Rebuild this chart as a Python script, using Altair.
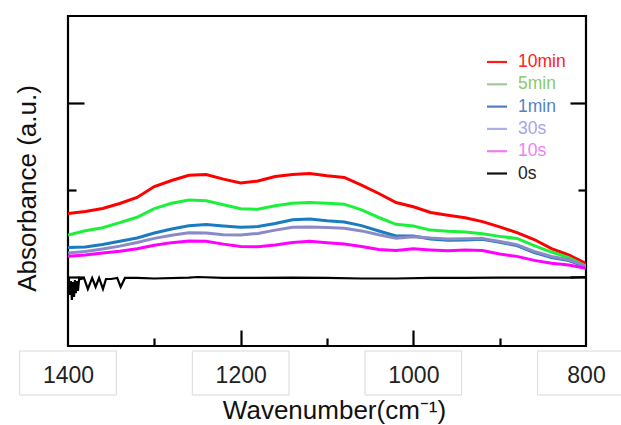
import altair as alt
import pandas as pd

# Wavenumber grid (cm^-1) shared by the coloured spectra
wavenumbers = [1400, 1380, 1360, 1340, 1320, 1300, 1280, 1260, 1240, 1220,
               1200, 1180, 1160, 1140, 1120, 1100, 1080, 1060, 1040, 1020,
               1000, 980, 960, 940, 920, 900, 880, 860, 840, 820, 800]

abs_10min = [0.730, 0.753, 0.787, 0.845, 0.914, 1.040, 1.109, 1.169, 1.178, 1.125,
             1.080, 1.103, 1.156, 1.178, 1.190, 1.164, 1.144, 1.057, 0.960, 0.856,
             0.807, 0.741, 0.710, 0.682, 0.637, 0.577, 0.510, 0.431, 0.326, 0.253, 0.157]
abs_5min = [0.483, 0.532, 0.567, 0.625, 0.687, 0.787, 0.848, 0.884, 0.877, 0.830,
            0.785, 0.778, 0.820, 0.849, 0.855, 0.847, 0.837, 0.771, 0.684, 0.606,
            0.586, 0.539, 0.525, 0.517, 0.498, 0.467, 0.443, 0.361, 0.287, 0.223, 0.126]
abs_1min = [0.339, 0.344, 0.374, 0.411, 0.448, 0.506, 0.552, 0.589, 0.603, 0.586,
            0.571, 0.580, 0.616, 0.657, 0.668, 0.647, 0.631, 0.591, 0.529, 0.471,
            0.471, 0.438, 0.422, 0.426, 0.433, 0.398, 0.361, 0.282, 0.225, 0.190, 0.118]
abs_30s = [0.276, 0.292, 0.322, 0.355, 0.397, 0.444, 0.480, 0.508, 0.506, 0.487,
           0.483, 0.501, 0.539, 0.571, 0.576, 0.570, 0.561, 0.530, 0.485, 0.447,
           0.463, 0.447, 0.438, 0.440, 0.443, 0.409, 0.372, 0.293, 0.236, 0.198, 0.126]
abs_10s = [0.238, 0.254, 0.275, 0.295, 0.324, 0.364, 0.395, 0.415, 0.411, 0.378,
           0.352, 0.348, 0.369, 0.397, 0.411, 0.394, 0.380, 0.351, 0.316, 0.306,
           0.324, 0.311, 0.302, 0.309, 0.305, 0.264, 0.237, 0.191, 0.157, 0.137, 0.100]

# The 0 s reference spectrum is sampled more finely where it is noisy
wavenumbers_0s = [1399, 1398, 1396.5, 1395.5, 1394, 1393, 1392, 1391, 1389.5, 1388.5,
                  1387, 1385, 1381.5, 1377, 1372, 1368, 1364, 1359.5, 1356, 1350,
                  1343, 1339, 1334, 1320, 1300, 1260, 1250, 1220, 1180, 1140,
                  1100, 1060, 1020, 980, 940, 900, 860, 820, 800]
abs_0s = [-0.011, -0.207, -0.046, -0.264, -0.057, -0.230, -0.034, -0.184, -0.046, -0.161,
          -0.011, -0.023, -0.011, -0.138, -0.011, -0.115, -0.011, -0.138, -0.023, -0.023,
          -0.011, -0.115, -0.011, -0.011, -0.017, -0.006, 0.000, -0.011, -0.011, -0.006,
          -0.011, -0.017, -0.017, -0.011, -0.011, -0.006, -0.006, -0.006, 0.000]

series_names = ["10min", "5min", "1min", "30s", "10s", "0s"]
line_colors = ["#ff0000", "#1cf03c", "#1a7cc0", "#8a8ac6", "#ff00ff", "#000000"]
legend_line_colors = ["#ff1a1a", "#a3c99a", "#4f7fc0", "#a9aef0", "#f07df0", "#111111"]
legend_text_colors = ["#ff2020", "#8cc96a", "#5582c6", "#a4a4ec", "#f27ef2", "#222222"]

x_label_values = [1400, 1200, 1000, 800]
x_tick_values = [1300, 1200, 1100, 1000, 900]
y_tick_values = [0, 1, 2]

rows = []
for name, values in zip(series_names[:5], [abs_10min, abs_5min, abs_1min, abs_30s, abs_10s]):
    for w, a in zip(wavenumbers, values):
        rows.append({"wavenumber": w, "absorbance": a, "series": name})
for w, a in zip(wavenumbers_0s, abs_0s):
    rows.append({"wavenumber": w, "absorbance": a, "series": "0s"})
spectra = pd.DataFrame(rows)

W, H = 518, 330
FONT = "Liberation Sans"

xs = alt.Scale(domain=[800, 1400], reverse=True, nice=False, zero=False)
ys = alt.Scale(domain=[-0.793, 3.0], nice=False, zero=False)

# White label boxes under the wavenumber ticks
boxes = pd.DataFrame({"tick": x_label_values})
box_layer = (
    alt.Chart(boxes)
    .transform_calculate(left="datum.tick + 56", right="datum.tick - 56")
    .mark_rect(fill="white", stroke="#d9d9d9", strokeWidth=1)
    .encode(
        x=alt.X("left:Q", scale=xs, axis=None),
        x2="right:Q",
        y=alt.value(H + 5),
        y2=alt.value(H + 49),
    )
)

x_axis = alt.Axis(
    orient="bottom", values=x_label_values, format="d", ticks=False, tickSize=0,
    domain=False, grid=False, labelFontSize=23, labelFont=FONT, labelColor="#222222",
    labelPadding=36, labelBaseline="alphabetic", labelFlush=False,
    title="Wavenumber(cm⁻¹)", titleFont=FONT, titleFontSize=26,
    titleFontWeight="normal", titleColor="#111111", titleX=266, titleY=72,
    titleBaseline="alphabetic", titleAlign="center", zindex=1,
)
y_inner_left = alt.Axis(
    orient="right", offset=-W, values=y_tick_values, labels=False, title=None,
    domain=False, grid=False, tickWidth=2.2, tickColor="black",
    tickSize={"condition": {"test": "datum.value % 2 === 0", "value": 16}, "value": 8},
    zindex=1,
)

lines = (
    alt.Chart(spectra)
    .mark_line(clip=True)
    .encode(
        x=alt.X("wavenumber:Q", scale=xs, axis=x_axis),
        y=alt.Y("absorbance:Q", scale=ys, axis=y_inner_left),
        color=alt.Color("series:N", scale=alt.Scale(domain=series_names, range=line_colors), legend=None),
        size=alt.condition(alt.datum.series == "0s", alt.value(2.2), alt.value(3)),
        order=alt.Order("wavenumber:Q"),
    )
)

# Invisible layers carrying the inward ticks on the bottom and right edges, and the y title
ends = pd.DataFrame({"wavenumber": [800, 1400], "absorbance": [0.0, 0.0]})
tick_layer = (
    alt.Chart(ends)
    .mark_point(opacity=0)
    .encode(
        x=alt.X("wavenumber:Q", scale=xs, axis=alt.Axis(
            orient="top", offset=-H, values=x_tick_values, labels=False, title=None,
            domain=False, grid=False, tickWidth=2.2, tickColor="black",
            tickSize={"condition": {"test": "datum.value % 200 === 0", "value": 16}, "value": 8},
            zindex=1)),
        y=alt.Y("absorbance:Q", scale=ys, axis=alt.Axis(
            orient="left", offset=-W, values=y_tick_values, labels=False, title=None,
            domain=False, grid=False, tickWidth=2.2, tickColor="black",
            tickSize={"condition": {"test": "datum.value % 2 === 0", "value": 16}, "value": 8},
            zindex=1)),
    )
)
title_layer = (
    alt.Chart(ends)
    .mark_point(opacity=0)
    .encode(
        y=alt.Y("absorbance:Q", scale=ys, axis=alt.Axis(
            orient="left", labels=False, ticks=False, domain=False, grid=False,
            title="Absorbance (a.u.)", titleFont=FONT, titleFontSize=26,
            titleFontWeight="normal", titleColor="#111111", titleAngle=-90,
            titleX=-33, titleY=172, titleBaseline="alphabetic", titleAlign="center")),
    )
)

# Legend drawn in the upper right corner of the plot
legend = pd.DataFrame({
    "label": series_names,
    "line_color": legend_line_colors,
    "text_color": legend_text_colors,
    "idx": list(range(len(series_names))),
})
legend_base = alt.Chart(legend).transform_calculate(py="46 + datum.idx * 22.3")
legend_rules = legend_base.mark_rule(strokeWidth=2.2).encode(
    x=alt.value(419), x2=alt.value(439),
    y=alt.Y("py:Q", scale=None),
    color=alt.Color("line_color:N", scale=None),
)
legend_text = legend_base.mark_text(
    align="left", baseline="middle", font=FONT, fontSize=17.5
).encode(
    x=alt.value(450),
    y=alt.Y("py:Q", scale=None),
    text="label:N",
    color=alt.Color("text_color:N", scale=None),
)

chart = (
    alt.layer(box_layer, lines, tick_layer, title_layer, legend_rules, legend_text)
    .resolve_axis(x="independent", y="independent")
    .properties(
        width=W, height=H, autosize="none",
        padding={"left": 68, "top": 16, "right": 35, "bottom": 79},
        background="white",
    )
    .configure_view(stroke="black", strokeWidth=2.2)
)

chart.save("out.html", embed_options={"renderer": "svg", "actions": False})
